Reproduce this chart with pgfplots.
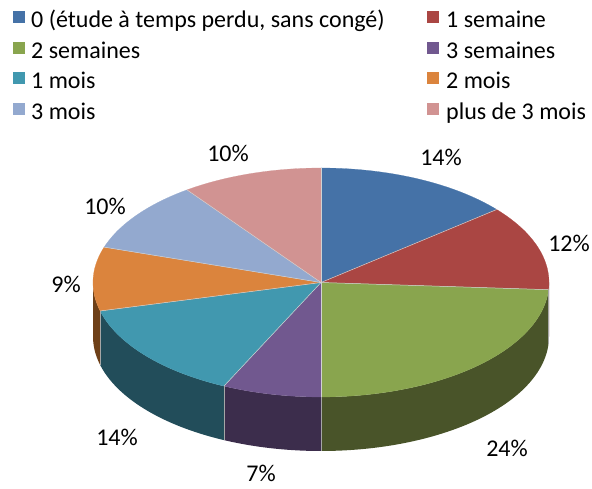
\documentclass[border=0pt]{standalone}
\usepackage{fontspec}
\setmainfont{Carlito}
\usepackage{pgfplots}
\pgfplotsset{compat=1.18}
\usepackage{pgfplotstable}
\usepgfplotslibrary{fillbetween}

% top faces
\definecolor{c0}{HTML}{4572A7}
\definecolor{c1}{HTML}{AA4643}
\definecolor{c2}{HTML}{89A54E}
\definecolor{c3}{HTML}{71588F}
\definecolor{c4}{HTML}{4198AF}
\definecolor{c5}{HTML}{DB843D}
\definecolor{c6}{HTML}{93A9CF}
\definecolor{c7}{HTML}{D19392}
% sides
\definecolor{s0}{HTML}{2A4466}
\definecolor{s1}{HTML}{5E2624}
\definecolor{s2}{HTML}{495429}
\definecolor{s3}{HTML}{3C2D4C}
\definecolor{s4}{HTML}{224D5A}
\definecolor{s5}{HTML}{6E4018}
\definecolor{s6}{HTML}{4A5A78}
\definecolor{s7}{HTML}{7A4A4A}

\pgfplotstableread{
pct
14
12
24
7
14
9
10
10
}\piedata

% pie geometry (px units, y downwards)
\def\cx{321}\def\cy{282.5}\def\rx{228}\def\ry{114.5}\def\dep{54}
\newcommand\lf{\fontsize{24}{28}\selectfont}
\tikzset{
  leg/.style={fill=#1, minimum size=12pt, inner sep=0pt},
  legtext/.style={font=\lf, anchor=base west, inner sep=0pt},
  lab/.style={font=\lf, inner sep=0pt},
}

\begin{document}
\begin{tikzpicture}
\begin{axis}[
  scale only axis, width=592pt, height=488pt,
  xmin=0, xmax=592, ymin=0, ymax=488, y dir=reverse,
  hide axis, clip=false,
]
\def\acc{0}
\pgfplotsforeachungrouped \i in {0,...,7}{%
  \pgfplotstablegetelem{\i}{pct}\of\piedata
  \pgfmathsetmacro\a{\acc}%
  \pgfmathsetmacro\b{\acc+3.6*\pgfplotsretval}%
  \let\acc\b
  % front side, visible between 90 and 270 deg
  \pgfmathsetmacro\lo{max(\a,90)}%
  \pgfmathsetmacro\hi{min(\b,270)}%
  \pgfmathtruncatemacro\vis{\hi>\lo+0.01 ? 1 : 0}%
  \ifnum\vis=1
    \edef\temp{%
      \noexpand\addplot[draw=none, name path=top\i, domain=\lo:\hi, samples=60]
        ({\cx+\rx*sin(x)},{\cy-\ry*cos(x)});
      \noexpand\addplot[draw=none, name path=bot\i, domain=\lo:\hi, samples=60]
        ({\cx+\rx*sin(x)},{\cy+\dep-\ry*cos(x)});
      \noexpand\addplot[fill=s\i, draw=none] fill between[of=top\i\space and bot\i];
    }\temp
  \fi
  % top face
  \edef\temp{%
    \noexpand\addplot[fill=c\i, draw=c\i, line width=0.2pt, domain=\a:\b, samples=60]
      ({\cx+\rx*sin(x)},{\cy-\ry*cos(x)}) -- (axis cs:\cx,\cy) -- cycle;
  }\temp
}
% slice edges
\def\acc{0}
\pgfplotsforeachungrouped \i in {0,...,7}{%
  \pgfplotstablegetelem{\i}{pct}\of\piedata
  \pgfmathsetmacro\a{\acc}%
  \pgfmathsetmacro\b{\acc+3.6*\pgfplotsretval}%
  \let\acc\b
  \pgfmathsetmacro\px{\cx+\rx*sin(\a)}%
  \pgfmathsetmacro\py{\cy-\ry*cos(\a)}%
  \pgfmathsetmacro\qy{\py+\dep}%
  \edef\temp{%
    \noexpand\draw[white!65!gray, line width=0.5pt] (axis cs:\cx,\cy) -- (axis cs:\px,\py);
  }\temp
  \pgfmathtruncatemacro\vis{(\a>90.5 && \a<269.5) ? 1 : 0}%
  \ifnum\vis=1
    \edef\temp{%
      \noexpand\draw[gray!70, line width=0.5pt] (axis cs:\px,\py) -- (axis cs:\px,\qy);
    }\temp
  \fi
}
% data labels
\node[lab] at (axis cs:441,157) {14\%};
\node[lab] at (axis cs:569,243) {12\%};
\node[lab] at (axis cs:507,448) {24\%};
\node[lab] at (axis cs:261,473) {7\%};
\node[lab] at (axis cs:117,437) {14\%};
\node[lab] at (axis cs:66,284) {9\%};
\node[lab] at (axis cs:105,206) {10\%};
\node[lab] at (axis cs:228,153) {10\%};
% legend
\node[leg=c0] at (axis cs:18.5,17.5) {};  \node[legtext] at (axis cs:31,28) {0 (étude à temps perdu, sans congé)};
\node[leg=c1] at (axis cs:433,17.5) {}; \node[legtext] at (axis cs:446,28) {1 semaine};
\node[leg=c2] at (axis cs:18.5,48) {};  \node[legtext] at (axis cs:31,58.5) {2 semaines};
\node[leg=c3] at (axis cs:433,48) {}; \node[legtext] at (axis cs:446,58.5) {3 semaines};
\node[leg=c4] at (axis cs:18.5,78.5) {};  \node[legtext] at (axis cs:31,89) {1 mois};
\node[leg=c5] at (axis cs:433,78.5) {}; \node[legtext] at (axis cs:446,89) {2 mois};
\node[leg=c6] at (axis cs:18.5,109) {}; \node[legtext] at (axis cs:31,119.5) {3 mois};
\node[leg=c7] at (axis cs:433,109) {}; \node[legtext] at (axis cs:446,119.5) {plus de 3 mois};
\end{axis}
\pgfresetboundingbox
\useasboundingbox (current axis.south west) rectangle (current axis.north east);
\end{tikzpicture}
\end{document}
